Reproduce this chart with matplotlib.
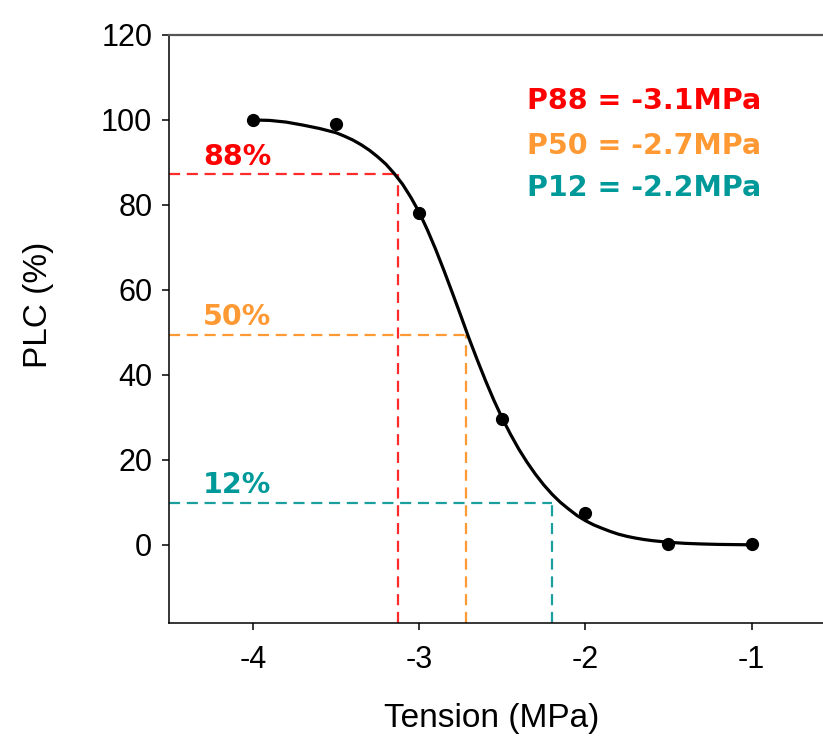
import matplotlib.pyplot as plt

plt.rcParams['axes.unicode_minus'] = False

# measured points (PLC vs tension)
tension = [-4.0, -3.5, -3.0, -2.5, -2.0, -1.5, -1.0]
plc = [100.0, 99.0, 78.2, 29.5, 7.6, 0.1, 0.1]

# fitted curve (finer steps where it bends)
curve_x = [-4.0, -3.9, -3.8, -3.7, -3.6, -3.5, -3.45, -3.4, -3.35, -3.3, -3.25,
           -3.2, -3.15, -3.1, -3.05, -3.0, -2.95, -2.9, -2.85, -2.8, -2.75,
           -2.7, -2.65, -2.6, -2.55, -2.5, -2.45, -2.4, -2.35, -2.3, -2.25,
           -2.2, -2.15, -2.1, -2.05, -2.0, -1.95, -1.9, -1.85, -1.8, -1.75,
           -1.7, -1.65, -1.6, -1.5, -1.4, -1.3, -1.2, -1.1, -1.0]
curve_y = [100.0, 99.9, 99.5, 98.8, 98.0, 97.0, 96.2, 95.3, 94.2, 92.9, 91.35,
           89.6, 87.4, 84.9, 81.8, 78.3, 74.1, 69.5, 64.5, 59.3, 54.0,
           48.6, 43.5, 38.6, 34.0, 29.8, 26.0, 22.5, 19.4, 16.6, 14.1,
           11.9, 10.0, 8.4, 6.9, 5.7, 4.7, 3.9, 3.15, 2.5, 2.0,
           1.6, 1.27, 1.0, 0.6, 0.35, 0.2, 0.1, 0.05, 0.0]

# thresholds
levels = [87.2, 49.5, 9.9]
level_x = [-3.13, -2.72, -2.20]
level_labels = ['88%', '50%', '12%']
p_labels = ['P88 = -3.1MPa', 'P50 = -2.7MPa', 'P12 = -2.2MPa']
p_label_y = [104.4, 93.8, 84.1]
text_colors = ['#FF0000', '#FF9933', '#009999']
line_colors = ['#FF2A2A', '#FF9933', '#1A9E9E']

xmin, xmax = -4.505, -0.57
ymin, ymax = -18.4, 120

fig = plt.figure(figsize=(8.23, 7.38), dpi=100)
ax = fig.add_axes([169 / 823, 1 - 623 / 738, 1 - 169 / 823, (623 - 35) / 738])

# dashed guide lines
for lv, lx, lc in zip(levels, level_x, line_colors):
    ax.plot([xmin, lx], [lv, lv], color=lc, lw=1.6, dashes=(5, 3), zorder=2)
    ax.plot([lx, lx], [ymin, lv], color=lc, lw=1.6, dashes=(5, 3), zorder=2)

ax.plot(curve_x, curve_y, color='black', lw=2.3, zorder=3,
        solid_joinstyle='round')
ax.plot(tension, plc, 'o', color='black', ms=8.5, zorder=4)

# percent labels
for lv, lab, tc in zip(levels, level_labels, text_colors):
    ax.text(-4.096, lv + 0.9, lab, color=tc, fontsize=20.5, fontweight='bold',
            family='DejaVu Sans', ha='center', va='bottom')

# P values
for lab, py, tc in zip(p_labels, p_label_y, text_colors):
    ax.text(-2.352, py, lab, color=tc, fontsize=20.5,
            fontweight='bold', family='DejaVu Sans', ha='left', va='center')

ax.set_xlim(xmin, xmax)
ax.set_ylim(ymin, ymax)
ax.set_xticks([-4, -3, -2, -1])
ax.set_yticks([0, 20, 40, 60, 80, 100, 120])
ax.tick_params(direction='out', length=5, width=1.1, labelsize=22)
ax.tick_params(axis='x', pad=11)
ax.tick_params(axis='y', pad=7)
for lab in ax.get_xticklabels() + ax.get_yticklabels():
    lab.set_family('Liberation Sans')

ax.spines['right'].set_visible(False)
ax.spines['top'].set_color('#555555')
ax.spines['top'].set_linewidth(1.6)
ax.spines['left'].set_linewidth(1.1)
ax.spines['bottom'].set_linewidth(1.1)

fig.text(38 / 823, 1 - 305 / 738, 'PLC (%)', rotation=90, ha='center', va='center',
         fontsize=24, family='Liberation Sans')
fig.text(492 / 823, 1 - 719 / 738, 'Tension (MPa)', ha='center', va='center',
         fontsize=24, family='Liberation Sans')

plt.savefig('out.png', dpi=100)
